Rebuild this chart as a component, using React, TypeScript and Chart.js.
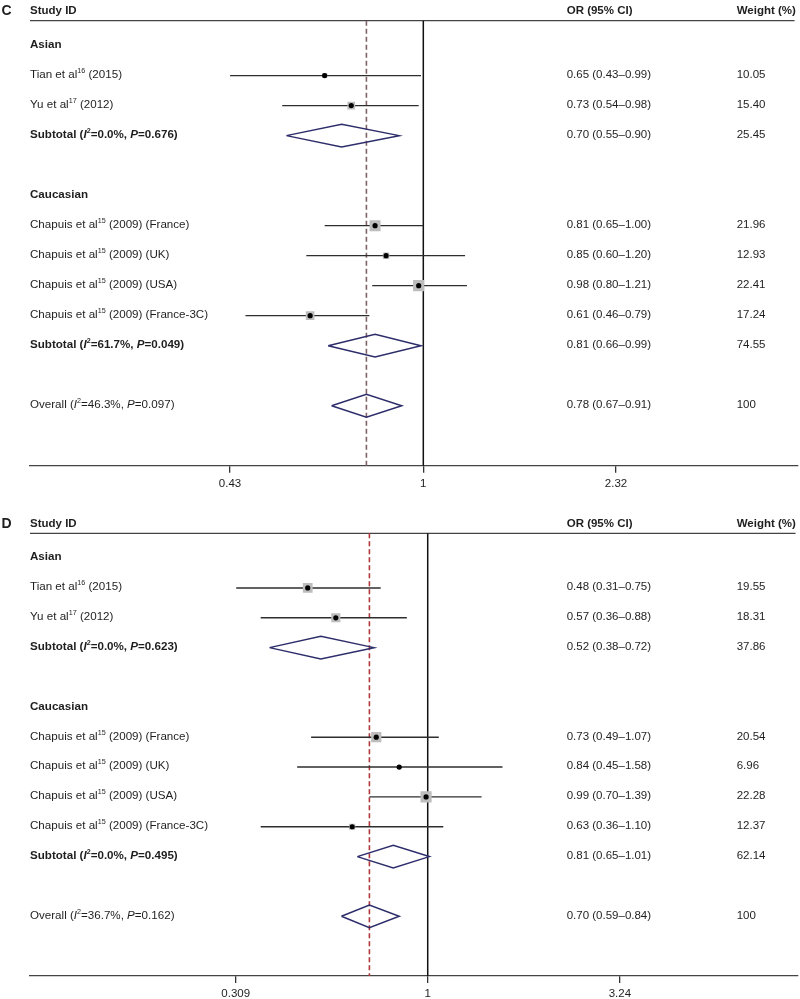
import React, { useEffect, useRef } from "react";
import { Chart, registerables } from "chart.js";
Chart.register(...registerables);

const FONT = '"Liberation Sans", Arial, Helvetica, sans-serif';

// ---------- shared row structure ----------
const rowKinds = ["group", "study", "study", "sub", "blank", "group", "study", "study", "study", "study", "sub", "blank", "overall"];

// ---------- Panel C ----------
const labelsC = [
  "Asian",
  "Tian et al^16^ (2015)",
  "Yu et al^17^ (2012)",
  "Subtotal (*I*^2^=0.0%, *P*=0.676)",
  "",
  "Caucasian",
  "Chapuis et al^15^ (2009) (France)",
  "Chapuis et al^15^ (2009) (UK)",
  "Chapuis et al^15^ (2009) (USA)",
  "Chapuis et al^15^ (2009) (France-3C)",
  "Subtotal (*I*^2^=61.7%, *P*=0.049)",
  "",
  "Overall (*I*^2^=46.3%, *P*=0.097)",
];
const orC = [null, 0.65, 0.73, 0.70, null, null, 0.81, 0.85, 0.98, 0.61, 0.81, null, 0.78];
const loC = [null, 0.43, 0.54, 0.55, null, null, 0.65, 0.60, 0.80, 0.46, 0.66, null, 0.67];
const hiC = [null, 0.99, 0.98, 0.90, null, null, 1.00, 1.20, 1.21, 0.79, 0.99, null, 0.91];
const weightC = [null, 10.05, 15.40, 25.45, null, null, 21.96, 12.93, 22.41, 17.24, 74.55, null, 100];
const tickValsC = [0.43, 1, 2.32];
const tickLabelsC = ["0.43", "1", "2.32"];

// ---------- Panel D ----------
const labelsD = [
  "Asian",
  "Tian et al^16^ (2015)",
  "Yu et al^17^ (2012)",
  "Subtotal (*I*^2^=0.0%, *P*=0.623)",
  "",
  "Caucasian",
  "Chapuis et al^15^ (2009) (France)",
  "Chapuis et al^15^ (2009) (UK)",
  "Chapuis et al^15^ (2009) (USA)",
  "Chapuis et al^15^ (2009) (France-3C)",
  "Subtotal (*I*^2^=0.0%, *P*=0.495)",
  "",
  "Overall (*I*^2^=36.7%, *P*=0.162)",
];
const orD = [null, 0.48, 0.57, 0.52, null, null, 0.73, 0.84, 0.99, 0.63, 0.81, null, 0.70];
const loD = [null, 0.31, 0.36, 0.38, null, null, 0.49, 0.45, 0.70, 0.36, 0.65, null, 0.59];
const hiD = [null, 0.75, 0.88, 0.72, null, null, 1.07, 1.58, 1.39, 1.10, 1.01, null, 0.84];
const weightD = [null, 19.55, 18.31, 37.86, null, null, 20.54, 6.96, 22.28, 12.37, 62.14, null, 100];
const tickValsD = [0.309, 1, 3.24];
const tickLabelsD = ["0.309", "1", "3.24"];

const headerStudy = "Study ID";
const headerOR = "OR (95% CI)";
const headerWeight = "Weight (%)";

type Panel = {
  letter: string;
  labels: string[];
  or: (number | null)[];
  lo: (number | null)[];
  hi: (number | null)[];
  weight: (number | null)[];
  tickVals: number[];
  tickLabels: string[];
  top: number;
  height: number;
  padTop: number;
  padBottom: number;
  xMin: number;
  xMax: number;
  dashColor: string;
};

const Y_MIN = -0.83;
const Y_MAX = 14.0;
const AXIS_H = 28.8;

const panels: Panel[] = [
  {
    letter: "C", labels: labelsC, or: orC, lo: loC, hi: hiC, weight: weightC,
    tickVals: tickValsC, tickLabels: tickLabelsC,
    top: 0, height: 500, padTop: 20.7, padBottom: 500 - 465.7 - AXIS_H,
    xMin: 0.1795, xMax: 5.136, dashColor: "#7f6266",
  },
  {
    letter: "D", labels: labelsD, or: orD, lo: loD, hi: hiD, weight: weightD,
    tickVals: tickValsD, tickLabels: tickLabelsD,
    top: 506, height: 500, padTop: 27.3, padBottom: 500 - (976 - 506) - AXIS_H,
    xMin: 0.0878, xMax: 9.63, dashColor: "#b0393b",
  },
];

function drawRich(ctx: CanvasRenderingContext2D, str: string, x: number, y: number, size: number, bold: boolean) {
  let italic = false;
  let sup = false;
  let buf = "";
  let cx = x;
  const flush = () => {
    if (!buf) return;
    const s = sup ? size * 0.62 : size;
    ctx.font = `${italic ? "italic " : ""}${bold ? "bold " : ""}${s}px ${FONT}`;
    ctx.fillText(buf, cx, sup ? y - size * 0.33 : y);
    cx += ctx.measureText(buf).width;
    buf = "";
  };
  for (const ch of str) {
    if (ch === "*") { flush(); italic = !italic; }
    else if (ch === "^") { flush(); sup = !sup; }
    else buf += ch;
  }
  flush();
}

function fmt(v: number) {
  return v.toFixed(2);
}

function ForestPanel({ p }: { p: Panel }) {
  const ref = useRef<HTMLCanvasElement | null>(null);
  useEffect(() => {
    if (!ref.current) return;
    const studyIdx = rowKinds.map((k, i) => (k === "study" ? i : -1)).filter((i) => i >= 0);
    const diamondIdx = rowKinds.map((k, i) => (k === "sub" || k === "overall" ? i : -1)).filter((i) => i >= 0);
    const overallIdx = rowKinds.indexOf("overall");
    const H = 0.38;
    const datasets: any[] = [];
    datasets.push({
      data: studyIdx.map((i) => ({ x: p.or[i], y: i })),
      pointStyle: "circle", pointRadius: 2.6, pointBackgroundColor: "#000", pointBorderWidth: 0, showLine: false,
    });
    datasets.push({
      data: studyIdx.map((i) => ({ x: p.or[i], y: i })),
      pointStyle: "rect",
      pointRadius: studyIdx.map((i) => ((p.weight[i] as number) * 0.5) / Math.SQRT2),
      pointBackgroundColor: "#bdbdbd", pointBorderWidth: 0, showLine: false,
    });
    studyIdx.forEach((i) => {
      datasets.push({
        data: [{ x: p.lo[i], y: i }, { x: p.hi[i], y: i }],
        showLine: true, borderColor: "#2e2e2e", borderWidth: 1.4, pointRadius: 0,
      });
    });
    diamondIdx.forEach((i) => {
      datasets.push({
        data: [
          { x: p.lo[i], y: i }, { x: p.or[i], y: i - H }, { x: p.hi[i], y: i },
          { x: p.or[i], y: i + H }, { x: p.lo[i], y: i },
        ],
        showLine: true, borderColor: "#2d2d6b", borderWidth: 1.5, pointRadius: 0, borderJoinStyle: "miter",
      });
    });
    datasets.push({
      data: [{ x: p.or[overallIdx], y: Y_MIN }, { x: p.or[overallIdx], y: Y_MAX }],
      showLine: true, borderColor: p.dashColor, borderWidth: 1.6, borderDash: [5, 3], pointRadius: 0, clip: false,
    });
    datasets.push({
      data: [{ x: 1, y: Y_MIN }, { x: 1, y: Y_MAX }],
      showLine: true, borderColor: "#111111", borderWidth: 1.5, pointRadius: 0, clip: false,
    });
    datasets.push({
      data: [{ x: p.xMin, y: Y_MIN }, { x: p.xMax * 0.985, y: Y_MIN }],
      showLine: true, borderColor: "#444444", borderWidth: 1.3, pointRadius: 0, clip: false,
    });

    const textPlugin = {
      id: "forestText",
      afterDraw(chart: any) {
        const ctx: CanvasRenderingContext2D = chart.ctx;
        const ys = chart.scales.y;
        const top = chart.chartArea.top;
        ctx.save();
        ctx.fillStyle = "#1e1e1e";
        ctx.textBaseline = "middle";
        ctx.textAlign = "left";
        const hy = top - 9.5;
        ctx.font = `bold 14px ${FONT}`;
        ctx.fillText(p.letter, 1.5, hy);
        drawRich(ctx, headerStudy, 30, hy, 11.5, true);
        drawRich(ctx, headerOR, 566.7, hy, 11.5, true);
        drawRich(ctx, headerWeight, 736.7, hy, 11.5, true);
        rowKinds.forEach((k, i) => {
          if (k === "blank") return;
          const y = ys.getPixelForValue(i) - 0.8;
          const bold = k === "group" || k === "sub";
          drawRich(ctx, p.labels[i], 30, y, 11.6, bold);
          if (k === "group") return;
          const o = p.or[i] as number, l = p.lo[i] as number, h = p.hi[i] as number, w = p.weight[i] as number;
          drawRich(ctx, `${fmt(o)} (${fmt(l)}\u2013${fmt(h)})`, 566.7, y, 11.5, false);
          drawRich(ctx, w === 100 ? "100" : fmt(w), 736.7, y, 11.5, false);
        });
        ctx.restore();
      },
    };

    const chart = new Chart(ref.current, {
      type: "scatter",
      data: { datasets },
      options: {
        responsive: false,
        animation: false,
        events: [],
        layout: { autoPadding: false, padding: { left: 30, right: 2, top: p.padTop, bottom: p.padBottom } },
        plugins: { legend: { display: false }, tooltip: { enabled: false } },
        scales: {
          x: {
            type: "logarithmic",
            position: "bottom",
            min: p.xMin,
            max: p.xMax,
            afterBuildTicks: (scale: any) => {
              scale.ticks = p.tickVals.map((v) => ({ value: v }));
            },
            grid: { display: true, drawOnChartArea: false, drawTicks: true, tickLength: 7, color: "#333333", lineWidth: 1.3 },
            border: { display: true, color: "#444444", width: 1.3 },
            ticks: {
              autoSkip: false, maxRotation: 0, padding: 4, color: "#1e1e1e",
              font: { family: FONT, size: 11.5 },
              callback: (v: any) => {
                const idx = p.tickVals.indexOf(Number(v));
                return idx >= 0 ? p.tickLabels[idx] : "";
              },
            },
          },
          y: { type: "linear", reverse: true, min: Y_MIN, max: Y_MAX, display: false },
        },
      } as any,
      plugins: [textPlugin],
    });
    return () => chart.destroy();
  }, [p]);
  return (
    <canvas
      ref={ref}
      width={800}
      height={p.height}
      style={{ position: "absolute", left: 0, top: p.top, width: 800, height: p.height }}
    />
  );
}

export default function App() {
  useEffect(() => {
    document.body.style.margin = "0";
  }, []);
  return (
    <div style={{ position: "relative", width: 800, height: 999, overflow: "hidden", background: "#fff" }}>
      {panels.map((p) => (
        <ForestPanel key={p.letter} p={p} />
      ))}
    </div>
  );
}
